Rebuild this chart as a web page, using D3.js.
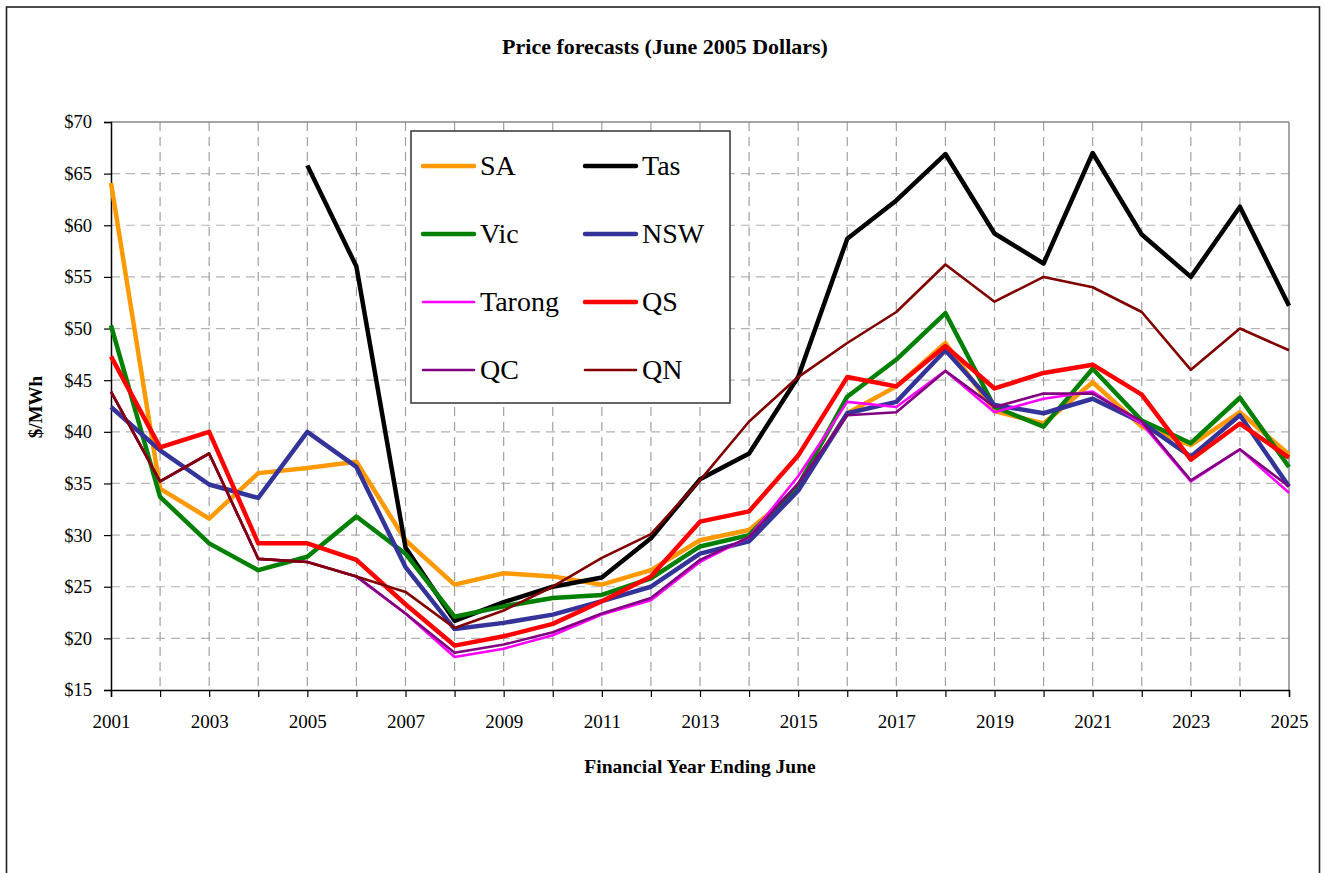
<!DOCTYPE html>
<html>
<head>
<meta charset="utf-8">
<script src="https://cdn.jsdelivr.net/npm/d3@7"></script>
<style>
  html, body { margin: 0; padding: 0; background: #fff; }
  svg { display: block; }
  text { font-family: "Palatino Linotype", "Book Antiqua", Palatino, "Liberation Serif", serif; fill: #000; }
</style>
</head>
<body>
<svg id="chart" width="1326" height="873"></svg>
<script>
// ---- Data ----
const years = d3.range(2001, 2026);
const yTicks = [15, 20, 25, 30, 35, 40, 45, 50, 55, 60, 65, 70];
const xTickLabels = [2001, 2003, 2005, 2007, 2009, 2011, 2013, 2015, 2017, 2019, 2021, 2023, 2025];

const SA     = [64.1, 34.5, 31.6, 36.0, 36.5, 37.1, 29.5, 25.2, 26.3, 26.0, 25.2, 26.6, 29.5, 30.5, 34.4, 41.8, 44.4, 48.6, 42.0, 40.8, 44.8, 40.5, 38.7, 41.9, 37.8];
const Tas    = [null, null, null, null, 65.8, 56.0, 28.8, 21.7, 23.5, 25.0, 25.9, 29.7, 35.4, 37.9, 45.3, 58.7, 62.4, 66.9, 59.2, 56.3, 67.0, 59.1, 55.0, 61.8, 52.2];
const Vic    = [50.3, 33.7, 29.2, 26.6, 27.9, 31.8, 28.2, 22.1, 23.1, 23.9, 24.2, 25.8, 28.9, 30.0, 34.8, 43.4, 47.0, 51.5, 42.4, 40.5, 46.1, 41.1, 38.9, 43.3, 36.6];
const NSW    = [42.4, 38.2, 34.9, 33.6, 40.0, 36.6, 26.9, 20.9, 21.5, 22.3, 23.6, 25.0, 28.2, 29.4, 34.3, 41.8, 42.9, 47.9, 42.6, 41.8, 43.2, 40.9, 37.6, 41.6, 34.7];
const Tarong = [43.9, 35.2, 37.9, 27.7, 27.4, 26.0, 22.4, 18.2, 19.0, 20.3, 22.3, 23.7, 27.4, 29.8, 35.7, 42.9, 42.4, 45.9, 41.9, 43.2, 43.9, 40.8, 35.2, 38.3, 34.1];
const QS     = [47.3, 38.5, 40.0, 29.2, 29.2, 27.6, 23.3, 19.3, 20.2, 21.4, 23.6, 26.0, 31.3, 32.3, 37.7, 45.3, 44.4, 48.3, 44.2, 45.7, 46.5, 43.6, 37.3, 40.8, 37.5];
const QC     = [43.9, 35.2, 37.9, 27.7, 27.4, 26.0, 22.4, 18.6, 19.4, 20.6, 22.4, 23.9, 27.6, 29.8, 35.0, 41.6, 41.9, 45.9, 42.4, 43.7, 43.7, 41.0, 35.3, 38.3, 34.7];
const QN     = [43.9, 35.2, 37.9, 27.7, 27.4, 26.0, 24.5, 21.0, 22.7, 25.0, 27.8, 30.1, 35.3, 41.0, 45.3, 48.6, 51.6, 56.2, 52.6, 55.0, 54.0, 51.6, 46.0, 50.0, 47.9];

const seriesNames  = ["SA", "Tas", "Vic", "NSW", "Tarong", "QS", "QC", "QN"];
const seriesValues = [SA, Tas, Vic, NSW, Tarong, QS, QC, QN];
const seriesColors = ["#FF9900", "#000000", "#008000", "#333399", "#FF00FF", "#FF0000", "#800080", "#800000"];
const seriesWidths = [4.5, 4.5, 4.5, 4.5, 2.6, 4.5, 2.6, 2.6];

// ---- Layout ----
const svg = d3.select("#chart");
const L = 111, R = 1289, T = 122, B = 690;

const x = d3.scaleLinear().domain([2001, 2025]).range([L, R]);
const y = d3.scaleLinear().domain([15, 70]).range([B, T]);

// outer frame
svg.append("rect").attr("x", 6.5).attr("y", 7).attr("width", 1313).attr("height", 900)
  .attr("fill", "none").attr("stroke", "#222").attr("stroke-width", 1.6);

// title
svg.append("text").attr("x", 665).attr("y", 54).attr("text-anchor", "middle")
  .style("font-weight", "bold").style("font-size", "22px")
  .text("Price forecasts (June 2005 Dollars)");

// grid
const g = svg.append("g");
g.selectAll("line.hg").data(yTicks.filter(v => v > 15 && v < 70)).join("line")
  .attr("x1", L).attr("x2", R).attr("y1", d => y(d)).attr("y2", d => y(d))
  .attr("stroke", "#b4b4b4").attr("stroke-width", 1.2).attr("stroke-dasharray", "9,6");
g.selectAll("line.vg").data(years.filter(v => v > 2001 && v < 2025)).join("line")
  .attr("y1", T).attr("y2", B).attr("x1", d => x(d)).attr("x2", d => x(d))
  .attr("stroke", "#a0a0a0").attr("stroke-width", 1.2).attr("stroke-dasharray", "9,6");

// plot border top/right (gray)
svg.append("line").attr("x1", L).attr("x2", R).attr("y1", T).attr("y2", T).attr("stroke", "#888").attr("stroke-width", 1.5);
svg.append("line").attr("x1", R).attr("x2", R).attr("y1", T).attr("y2", B).attr("stroke", "#888").attr("stroke-width", 1.5);

// axes
const yAxis = d3.axisLeft(y).tickValues(yTicks).tickSize(7).tickPadding(12).tickFormat(d => "$" + d);
const yG = svg.append("g").attr("transform", `translate(${L},0)`).call(yAxis);
yG.select(".domain").attr("stroke", "#000").attr("stroke-width", 1.5);
yG.selectAll(".tick line").attr("stroke", "#000").attr("stroke-width", 1.2);
yG.selectAll(".tick text").style("font-size", "18.5px").style("font-family", "\"Liberation Serif\", serif").attr("fill", "#000");

const xAxis = d3.axisBottom(x).tickValues(years).tickSize(7).tickPadding(18)
  .tickFormat(d => xTickLabels.includes(d) ? String(d) : "");
const xG = svg.append("g").attr("transform", `translate(0,${B})`).call(xAxis);
xG.select(".domain").attr("stroke", "#000").attr("stroke-width", 1.5);
xG.selectAll(".tick line").attr("stroke", "#000").attr("stroke-width", 1.2);
xG.selectAll(".tick text").style("font-size", "19px").style("font-family", "\"Liberation Serif\", serif").attr("fill", "#000");

// axis titles
svg.append("text").attr("x", 700).attr("y", 773).attr("text-anchor", "middle")
  .style("font-weight", "bold").style("font-size", "19.5px").text("Financial Year Ending June");
svg.append("text").attr("transform", "translate(42,407) rotate(-90)").attr("text-anchor", "middle")
  .style("font-weight", "bold").style("font-size", "19px").text("$/MWh");

// legend box
const lg = svg.append("g");
lg.append("rect").attr("x", 411).attr("y", 131).attr("width", 319).attr("height", 272)
  .attr("fill", "#fff").attr("stroke", "#333").attr("stroke-width", 1.5);

// lines
const line = d3.line().defined(d => d[1] != null).x(d => x(d[0])).y(d => y(d[1]));
seriesValues.forEach((vals, i) => {
  svg.append("path").datum(years.map((yr, j) => [yr, vals[j]]))
    .attr("d", line).attr("fill", "none")
    .attr("stroke", seriesColors[i]).attr("stroke-width", seriesWidths[i])
    .attr("stroke-linejoin", "round").attr("stroke-linecap", "butt");
});

// legend entries
const rowsY = [166, 234, 302, 370];
seriesNames.forEach((name, i) => {
  const col = i % 2, row = Math.floor(i / 2);
  const x0 = col === 0 ? 423 : 585;
  const yy = rowsY[row];
  lg.append("line").attr("x1", x0).attr("x2", x0 + 51).attr("y1", yy).attr("y2", yy)
    .attr("stroke", seriesColors[i]).attr("stroke-width", seriesWidths[i]).attr("stroke-linecap", "round");
  lg.append("text").attr("x", x0 + 57).attr("y", yy + 9).style("font-size", "28px").text(name);
});
</script>
</body>
</html>
